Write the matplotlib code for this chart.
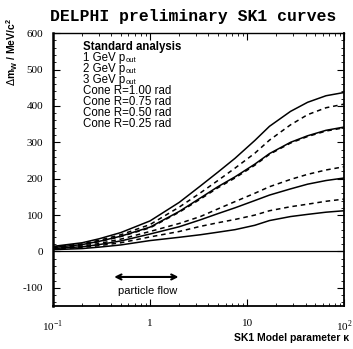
import matplotlib
matplotlib.use("Agg")
import matplotlib.pyplot as plt
from matplotlib.ticker import LogLocator, NullFormatter, FixedLocator, MultipleLocator
from matplotlib.transforms import offset_copy

kappa = [0.1, 0.2, 0.3, 0.5, 1, 2, 3.3, 5, 7.5, 12, 17, 28, 42, 65, 100]
std_analysis = [14, 24, 35, 52, 84, 135, 180, 218, 256, 305, 344, 385, 410, 428, 437]
pout_1gev = [12, 21, 31, 46, 74, 122, 161, 195, 229, 270, 306, 348, 376, 395, 405]
pout_2gev = [11, 19, 28, 42, 67, 110, 147, 178, 205, 240, 269, 300, 318, 333, 342]
pout_3gev = [10, 18, 27, 41, 65, 108, 144, 175, 202, 237, 267, 298, 316, 331, 340]
cone_100 = [9, 15, 22, 34, 55, 77, 96, 117, 137, 160, 178, 198, 212, 224, 233]
cone_075 = [8, 13, 19, 29, 48, 68, 87, 104, 120, 140, 155, 172, 185, 195, 202]
cone_050 = [7, 11, 16, 24, 40, 55, 69, 79, 88, 100, 112, 123, 130, 138, 144]
cone_025 = [5, 8, 12, 18, 30, 39, 46, 53, 60, 72, 85, 96, 102, 108, 112]

series = [std_analysis, pout_1gev, pout_2gev, pout_3gev, cone_100, cone_075, cone_050, cone_025]
styles = ['-', '--', '-', '--', '--', '-', '--', '-']

legend_lines = ["Standard analysis", "1 GeV p", "2 GeV p", "3 GeV p",
                "Cone R=1.00 rad", "Cone R=0.75 rad", "Cone R=0.50 rad", "Cone R=0.25 rad"]
legend_subs = ["", "out", "out", "out", "", "", "", ""]
ytick_vals = [-100, 0, 100, 200, 300, 400, 500, 600]
xtick_vals = [0.1, 1, 10, 100]
xtick_labels = ["10$^{\\mathregular{-1}}$", "1", "10", "10$^{\\mathregular{2}}$"]

fig = plt.figure(figsize=(3.53, 3.49), dpi=100)
ax = fig.add_axes([0.150, 0.123, 0.825, 0.782])

for ys, ls in zip(series, styles):
    ax.plot(kappa, ys, color='black', lw=1.1, ls=ls, dashes=(3, 2.5) if ls == '--' else (None, None))

ax.axhline(0, color='black', lw=0.9)
ax.set_xscale('log')
ax.set_xlim(0.1, 100)
ax.set_ylim(-150, 600)

ax.xaxis.set_major_locator(FixedLocator(xtick_vals))
ax.xaxis.set_minor_locator(LogLocator(base=10, subs=range(2, 10)))
ax.xaxis.set_minor_formatter(NullFormatter())
ax.set_xticklabels(xtick_labels, fontfamily='Liberation Serif', fontsize=8)
ax.yaxis.set_major_locator(FixedLocator(ytick_vals))
ax.yaxis.set_minor_locator(MultipleLocator(20))
ax.set_yticklabels([str(v) for v in ytick_vals], fontfamily='Liberation Serif', fontsize=8)
ax.tick_params(which='both', direction='in', top=True, right=True)
ax.tick_params(which='major', length=5, width=0.8)
ax.tick_params(which='minor', length=2.5, width=0.6)
ax.tick_params(axis='x', pad=9)
ax.tick_params(axis='y', pad=7)
ax.spines['left'].set_linewidth(1.8)
ax.spines['bottom'].set_linewidth(1.3)
ax.spines['top'].set_linewidth(1.0)
ax.spines['right'].set_linewidth(1.3)

renderer = fig.canvas.get_renderer()
for i, (t, s) in enumerate(zip(legend_lines, legend_subs)):
    y = 0.938 - i * 0.0403
    txt = ax.text(0.103, y, t, transform=ax.transAxes, fontsize=8.3,
                  fontfamily='Liberation Sans', va='baseline', ha='left',
                  fontweight='bold' if i == 0 else 'normal')
    if s:
        bb = txt.get_window_extent(renderer)
        w_pts = bb.width * 72.0 / fig.dpi
        tr = offset_copy(ax.transAxes, fig=fig, x=w_pts + 0.3, y=-1.0, units='points')
        ax.text(0.103, y, s, transform=tr, fontsize=5.5, fontfamily='Liberation Sans',
                va='baseline', ha='left')

ax.annotate('', xy=(0.4, -70), xytext=(2.1, -70),
            arrowprops=dict(arrowstyle='<->', lw=1.5, color='black', mutation_scale=9))
ax.text(0.95, -108, 'particle flow', fontsize=8, fontfamily='Liberation Sans', ha='center', va='center')

fig.text(0.547, 0.952, 'DELPHI preliminary SK1 curves', fontfamily='Liberation Mono',
         fontweight='bold', fontsize=11.8, ha='center', va='center')
fig.text(0.035, 0.85, r'$\Delta$m$_{\mathregular{W}}$ / MeV/c$^{\mathregular{2}}$', rotation=90, fontsize=7.5,
         fontfamily='Liberation Sans', fontweight='bold', ha='center', va='center')
fig.text(0.99, 0.017, 'SK1 Model parameter κ', fontsize=7.5, fontfamily='Liberation Sans',
         fontweight='bold', ha='right', va='bottom')

fig.savefig('out.png', dpi=100)
